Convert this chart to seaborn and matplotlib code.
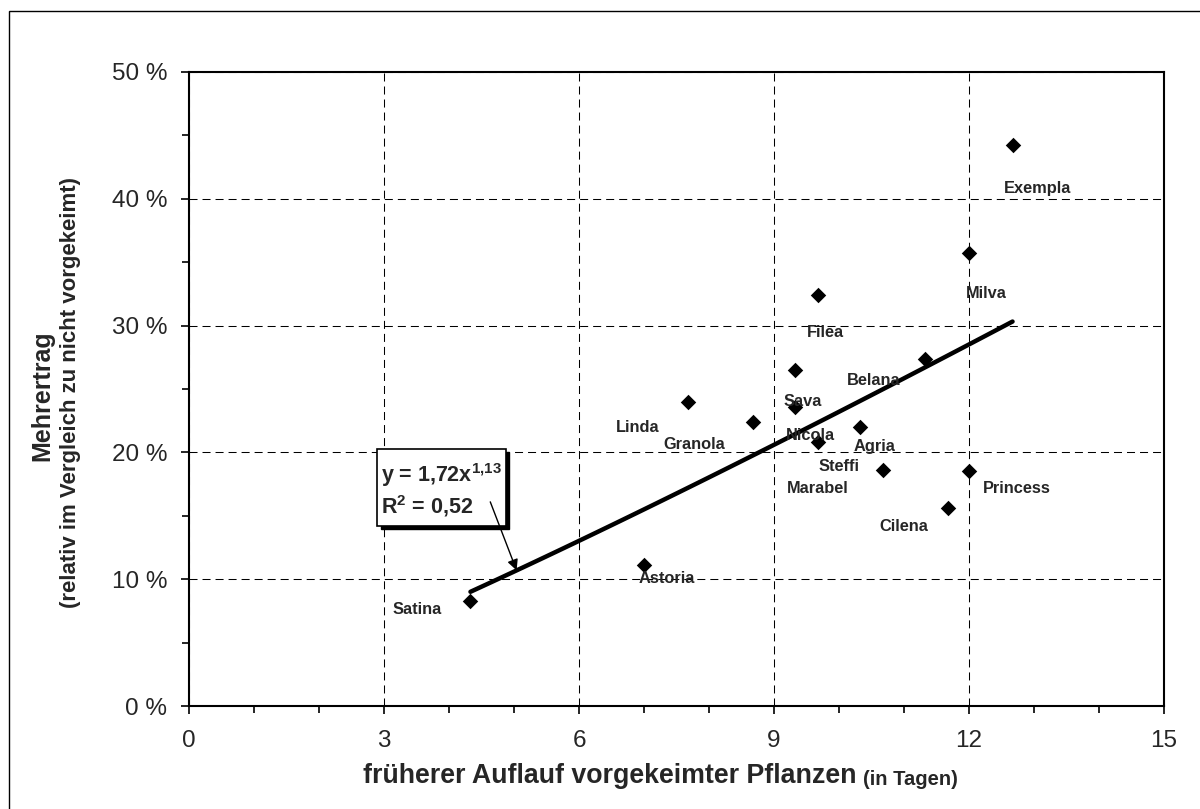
import matplotlib
matplotlib.use("Agg")
import matplotlib.pyplot as plt
from matplotlib.patches import Rectangle
from matplotlib.ticker import FuncFormatter, MultipleLocator
import numpy as np
import seaborn as sns

# data (x in days, y in percent)
varieties = ["Satina", "Astoria", "Linda", "Granola", "Sava", "Nicola", "Filea", "Marabel",
             "Agria", "Steffi", "Belana", "Cilena", "Milva", "Princess", "Exempla"]
earlier_days = [4.33, 7.0, 7.67, 8.67, 9.33, 9.33, 9.67, 9.67,
                10.33, 10.67, 11.33, 11.67, 12.0, 12.0, 12.67]
extra_yield = [8.3, 11.1, 24.0, 22.4, 26.5, 23.6, 32.4, 20.8,
               22.0, 18.6, 27.4, 15.6, 35.7, 18.5, 44.2]

# power trend line as printed on the chart
fit_a = 1.72
fit_b = 1.13
fit_r2 = "0,52"

# label offsets from each marker in pixels (right, up)
label_offsets = {
    "Satina": (-53, -9), "Astoria": (23, -13), "Linda": (-50, -26), "Granola": (-58, -23),
    "Sava": (7, -32), "Nicola": (15, -29), "Filea": (8, -37), "Marabel": (0, -46),
    "Agria": (14, -19), "Steffi": (-44, 4), "Belana": (-52, -22), "Cilena": (-44, -18),
    "Milva": (17, -40), "Princess": (48, -17), "Exempla": (25, -43),
}

sns.set_style("white")
plt.rcParams["font.family"] = ["Liberation Sans", "DejaVu Sans"]
plt.rcParams["mathtext.fontset"] = "custom"
plt.rcParams["mathtext.rm"] = "Liberation Sans:bold"
plt.rcParams["mathtext.it"] = "Liberation Sans:bold"
plt.rcParams["mathtext.bf"] = "Liberation Sans:bold"

fig = plt.figure(figsize=(12, 8.09), dpi=100)
ax = fig.add_axes([0.1575, 0.1272, 0.8125, 0.784])

x_fit = np.linspace(min(earlier_days), max(earlier_days), 100)
y_fit = fit_a * x_fit ** fit_b
sns.lineplot(x=x_fit, y=y_fit, color="black", linewidth=3.2, ax=ax, zorder=3)
sns.scatterplot(x=earlier_days, y=extra_yield, marker="D", s=62, color="black",
                edgecolor="black", linewidth=0, ax=ax, zorder=4)

for name, xv, yv in zip(varieties, earlier_days, extra_yield):
    dx, dy = label_offsets[name]
    ax.annotate(name, (xv, yv), xytext=(dx, dy), textcoords="offset pixels",
                ha="center", va="center", fontsize=11.8, fontweight="bold", zorder=5)

ax.set_xlim(0, 15)
ax.set_ylim(0, 50)
ax.xaxis.set_major_locator(MultipleLocator(3))
ax.xaxis.set_minor_locator(MultipleLocator(1))
ax.yaxis.set_major_locator(MultipleLocator(10))
ax.yaxis.set_minor_locator(MultipleLocator(5))
ax.yaxis.set_major_formatter(FuncFormatter(lambda v, _: f"{v:.0f} %"))

ax.grid(True, which="major", color="black", linewidth=0.75, linestyle=(0, (7.7, 4.8)))
ax.set_axisbelow(True)
for spine in ax.spines.values():
    spine.set_visible(True)
    spine.set_color("black")
    spine.set_linewidth(1.5)

ax.tick_params(axis="both", which="both", direction="out", color="black",
               bottom=True, left=True, width=1.2)
ax.tick_params(axis="both", which="major", length=6, labelsize=17.5)
ax.tick_params(axis="both", which="minor", length=5)
ax.tick_params(axis="x", which="major", pad=11)
ax.tick_params(axis="y", which="major", pad=9.5)
ax.set_xlabel("")
ax.set_ylabel("")

# equation box with shadow
box_x0, box_y0, box_w, box_h = 0.193, 0.284, 0.132, 0.121
ax.add_patch(Rectangle((box_x0 + 0.0035, box_y0 - 0.005), box_w, box_h, transform=ax.transAxes,
                       facecolor="black", edgecolor="black", clip_on=False, zorder=6))
ax.add_patch(Rectangle((box_x0, box_y0), box_w, box_h, transform=ax.transAxes,
                       facecolor="white", edgecolor="black", linewidth=1.2, clip_on=False, zorder=7))
ax.text(0.197, 0.365, f"y = 1,72x$^{{1{{,}}13}}$", transform=ax.transAxes, ha="left",
        va="center", fontsize=15.5, fontweight="bold", zorder=8)
ax.text(0.197, 0.315, f"R$^{{2}}$ = {fit_r2}", transform=ax.transAxes, ha="left",
        va="center", fontsize=15.5, fontweight="bold", zorder=8)
tip_x = 5.04
ax.annotate("", xy=(tip_x, fit_a * tip_x ** fit_b), xycoords="data",
            xytext=(0.309, 0.322), textcoords="axes fraction",
            arrowprops=dict(arrowstyle="-|>", color="black", lw=1, mutation_scale=16,
                            shrinkA=0, shrinkB=0), zorder=8)

# axis titles
fig.text(42 / 1200, 1 - 396 / 809, "Mehrertrag", rotation=90, ha="center", va="center",
         fontsize=18, fontweight="bold")
fig.text(71 / 1200, 1 - 393 / 809, "(relativ im Vergleich zu nicht vorgekeimt)", rotation=90,
         ha="center", va="center", fontsize=16, fontweight="bold")
xlab = fig.text(363 / 1200, 1 - 776 / 809, "früherer Auflauf vorgekeimter Pflanzen",
                ha="left", va="center", fontsize=19.3, fontweight="bold")
ax.annotate("(in Tagen)", xy=(1, 0), xycoords=xlab, xytext=(5, 0), textcoords="offset points",
            ha="left", va="bottom", fontsize=14.5, fontweight="bold", annotation_clip=False)

# outer chart border
fig.patches.append(Rectangle((9 / 1200, -0.1), 1.2, 1.1 - 11 / 809, transform=fig.transFigure,
                             fill=False, edgecolor="black", linewidth=1))

fig.savefig("out.png", dpi=100)
plt.close(fig)
